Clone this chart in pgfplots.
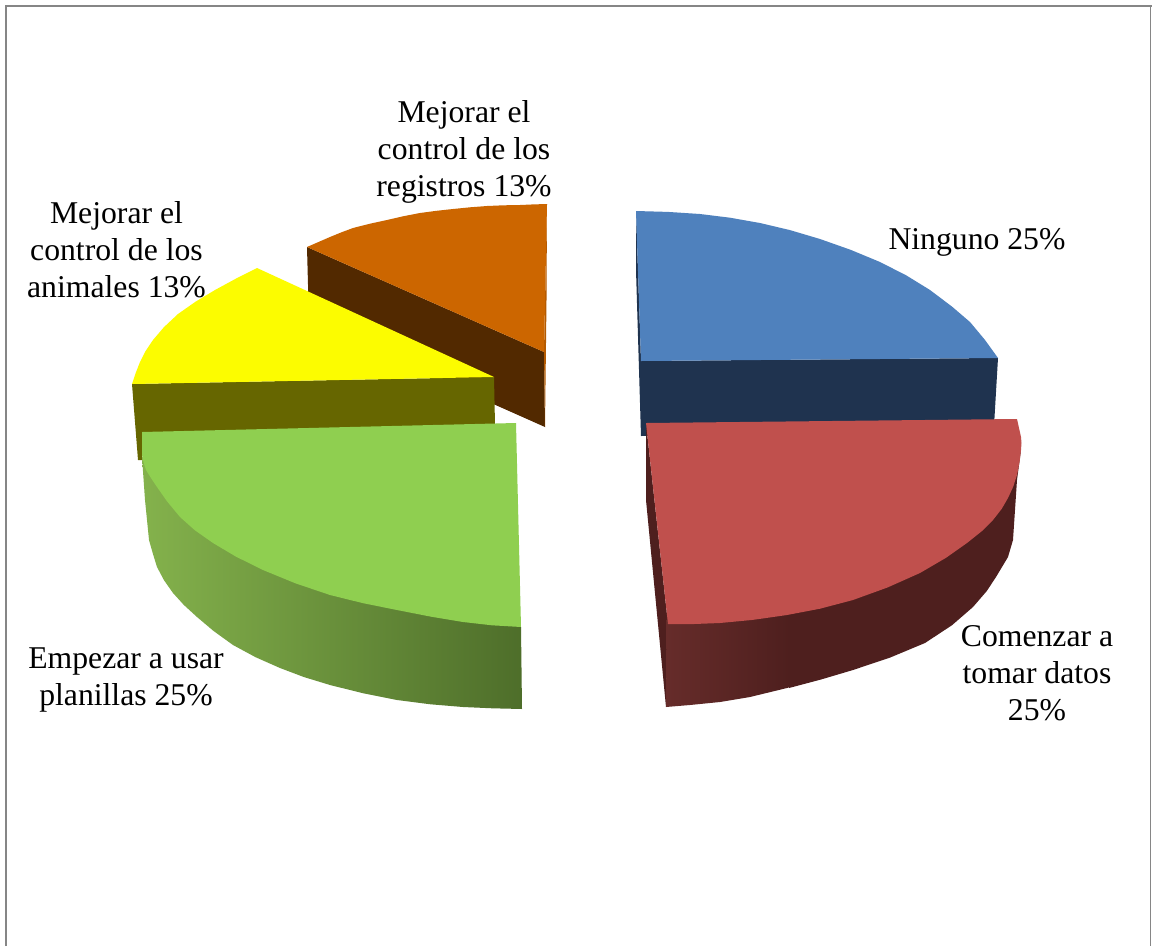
\documentclass[border=0pt]{standalone}
\usepackage{pgfplots}
\pgfplotsset{compat=1.18}
\usepackage{fontspec}
\setmainfont{Liberation Serif}
\definecolor{bluetop}{RGB}{79,129,189}
\definecolor{blueside}{RGB}{31,51,79}
\definecolor{redtop}{RGB}{192,80,77}
\definecolor{redsideL}{RGB}{102,44,42}
\definecolor{redsideR}{RGB}{78,31,30}
\definecolor{greentop}{RGB}{143,207,80}
\definecolor{greenL}{RGB}{132,178,76}
\definecolor{greenM}{RGB}{108,156,58}
\definecolor{greenR}{RGB}{78,110,42}
\definecolor{yellowtop}{RGB}{252,252,0}
\definecolor{yellowside}{RGB}{102,102,0}
\definecolor{orangetop}{RGB}{204,102,0}
\definecolor{orangeside}{RGB}{82,41,0}
\definecolor{frame}{RGB}{134,134,134}
\tikzset{lab/.style={font=\fontsize{31.7}{37}\selectfont, align=center, text=black, inner sep=0pt}}
\begin{document}
\begin{tikzpicture}
\begin{axis}[
  width=1152pt, height=946pt, scale only axis, hide axis,
  xmin=0, xmax=1152, ymin=0, ymax=946, y dir=reverse,
  clip=true,
]
% canvas
\addplot[draw=none, fill=white] coordinates {(0,0) (1152,0) (1152,946) (0,946)} -- cycle;
\addplot[frame, line width=2pt] coordinates {(5.7,946) (5.7,5.8) (1152,5.8)};
\addplot[frame, line width=1pt] coordinates {(1150.8,5.8) (1150.8,946)};
% Orange slice
\addplot[draw=none, fill=orangeside] coordinates {(307,247) (544,352) (545,427) (309,322)} -- cycle;
\addplot[draw=none, fill=orangetop!88!black] coordinates {(547,204) (546.5,300) (545,427) (544,352)} -- cycle;
\addplot[draw=none, fill=orangetop] coordinates {(307,247) (318.5,242) (330,237) (341.5,232.3) (353,228) (370,223.7) (387,220) (403.5,216.2) (420,213) (436.5,210.8) (453,209) (470,207.3) (487,206) (503.5,205.3) (520,205) (533.5,204.4) (547,204) (544,352)} -- cycle;
% Yellow slice
\addplot[draw=none, fill=yellowside] coordinates {(132,384) (494,377) (495,425) (142,433) (142,460) (138,460)} -- cycle;
\addplot[draw=none, fill=yellowtop] coordinates {(257,268) (236,278.6) (215,290) (195.4,301.8) (178,314) (164,327.1) (153,340) (145.4,351.3) (140,362) (135.7,373) (132,384) (494,377)} -- cycle;
% Blue slice
\addplot[draw=none, fill=blueside] coordinates {(636,211) (636,270) (641,436) (641,361)} -- cycle;
\addplot[draw=none, fill=blueside] coordinates {(641,361) (998,358) (994,426) (641,436)} -- cycle;
\addplot[draw=none, fill=bluetop] coordinates {(636,211) (668,211.9) (700,214) (730,217.7) (760,223) (790,230.1) (820,239) (850.6,249.8) (880,262) (906.3,275.4) (930,290) (952,306.6) (970,322) (985,340) (998,358) (641,361)} -- cycle;
% Red slice
\addplot[draw=none, fill=redsideR] coordinates {(646,423) (646,500) (666,707) (668,624)} -- cycle;
\addplot[draw=none, left color=redsideL, right color=redsideR] coordinates {(667,590) (790,590) (790,687) (787,688) (750,697) (720,702) (690,705) (666,707)} -- cycle;
\addplot[draw=none, fill=redsideR] coordinates {(789,590) (789,688) (821,679.5) (853,670) (890,657.6) (925,643) (952,625.2) (973,607) (986.8,591) (996,577) (1008,557) (1013,540) (1017,480) (1021,450)} -- cycle;
\addplot[draw=none, fill=redtop] coordinates {(646,423) (1017,419) (1021,437) (1021.5,443) (1021,450) (1019.6,461.9) (1017,475) (1013.2,486.7) (1008,498) (1001.6,509) (993,520) (982,531) (967,543) (946,557.8) (920,573) (887.7,587.4) (853,600) (820,608.7) (787,615) (752.6,619.9) (720,623) (694,624) (668,624)} -- cycle;
% Green slice
\addplot[draw=none, left color=greenL, middle color=greenM, right color=greenR] coordinates {(142,457) (145,500) (149,540) (153,554) (157,567) (164,580.2) (173,593) (183.8,604.9) (197,617) (213.6,631) (233,645) (255.6,657.2) (280,668) (303.8,677) (330,685) (362.5,693.1) (397,700) (430.5,704.3) (463,707) (492.5,708.3) (522,709) (521,627)} -- cycle;
\addplot[draw=none, fill=greentop] coordinates {(142,432) (516,423) (521,627) (492,625.3) (463,622) (430.6,616.6) (397,610) (363.6,603.3) (330,595) (295.4,583.3) (263,570) (235.9,556.6) (213,543) (194.8,530.2) (180,517) (167.1,501.4) (157,487) (151,478) (146,470) (143.6,462.5) (142,455)} -- cycle;
% Labels
\node[lab] at (axis cs:464,152) {Mejorar el\\control de los\\registros 13\%};
\node[lab] at (axis cs:116.5,249.5) {Mejorar el\\control de los\\animales 13\%};
\node[lab] at (axis cs:977,242) {Ninguno 25\%};
\node[lab] at (axis cs:1037,673) {Comenzar a\\tomar datos\\25\%};
\node[lab] at (axis cs:126,680) {Empezar a usar\\planillas 25\%};
\end{axis}
\end{tikzpicture}
\end{document}
